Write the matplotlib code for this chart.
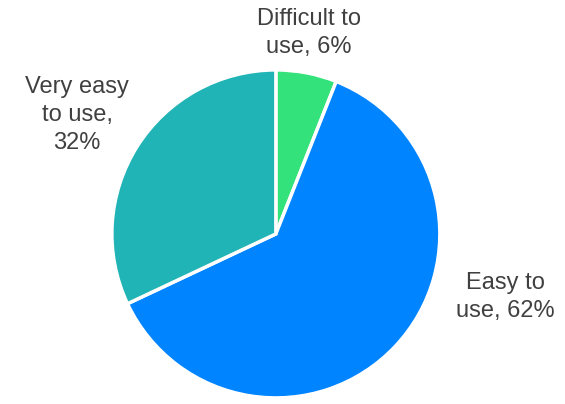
import matplotlib
matplotlib.use("Agg")
import matplotlib.pyplot as plt

labels = ["Difficult to\nuse, 6%", "Easy to\nuse, 62%", "Very easy\nto use,\n32%"]
values = [6, 62, 32]
colors = ["#33E27A", "#0084FF", "#20B4B6"]

plt.rcParams['font.family'] = ['Liberation Sans', 'DejaVu Sans']

fig = plt.figure(figsize=(5.65, 4.04), dpi=100)
ax = fig.add_axes([0.198, 0.015, 0.5805, 0.812])
ax.pie(values, colors=colors, startangle=90, counterclock=False, radius=1,
       wedgeprops=dict(edgecolor="white", linewidth=2.5))
ax.set_xlim(-1, 1)
ax.set_ylim(-1, 1)
ax.set_aspect("equal")

# label positions in pixels (x, y from top)
pos = [(309, 33), (505, 297), (77, 115)]
for lab, (px, py) in zip(labels, pos):
    fig.text(px / 565, 1 - py / 404, lab, ha="center", va="center",
             fontsize=17, color="#404040", linespacing=1.33)

fig.savefig("out.png", dpi=100)
